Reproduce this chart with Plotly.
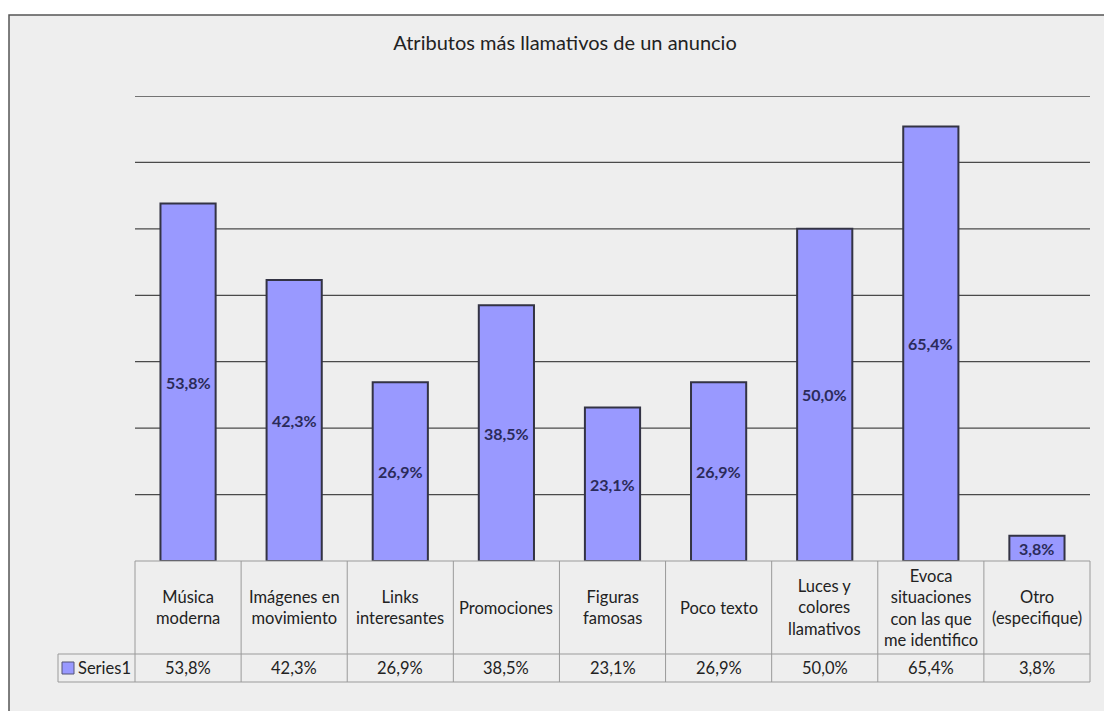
import plotly.graph_objects as go

categories = [
    "Música<br>moderna",
    "Imágenes en<br>movimiento",
    "Links<br>interesantes",
    "Promociones",
    "Figuras<br>famosas",
    "Poco texto",
    "Luces y<br>colores<br>llamativos",
    "Evoca<br>situaciones<br>con las que<br>me identifico",
    "Otro<br>(especifique)",
]
values = [53.8, 42.3, 26.9, 38.5, 23.1, 26.9, 50.0, 65.4, 3.8]
grid_values = [10, 20, 30, 40, 50, 60, 70]
series_name = "Series1"
title_text = "Atributos más llamativos de un anuncio"

W, H = 1104, 711
L, R, T, B = 135, 14, 96, 150
PW, PH = W - L - R, H - T - B

BAR_FILL = "#9999FF"
BAR_LINE = "#333344"
TEXT = "#222222"
LABEL = "#2B2B5A"
GRID = "#4A4A4A"
TABLE = "#9A9A9A"
FONT = "Lato, 'Open Sans', sans-serif"
TABLE_SIZE = 16.5


def fmt(v):
    return f"{v:.1f}".replace(".", ",") + "%"


def px_x(p):
    return (p - L) / PW


def px_y(p):
    return (H - B - p) / PH


n = len(categories)
xs = list(range(n))

fig = go.Figure()
fig.add_trace(go.Bar(
    x=xs, y=values, name=series_name,
    marker=dict(color=BAR_FILL, line=dict(color=BAR_LINE, width=2)),
    width=0.52, hoverinfo="skip",
))

shapes = []
annotations = []

# chart frame
shapes.append(dict(type="rect", xref="paper", yref="paper", layer="below",
                   x0=px_x(9), x1=px_x(1120), y0=px_y(15), y1=px_y(730),
                   fillcolor="#EEEEEE", line=dict(color="#555555", width=1.5)))

# horizontal gridlines (drawn under the bars)
for g in grid_values:
    shapes.append(dict(type="line", xref="paper", yref="y", layer="below",
                       x0=0, x1=1, y0=g, y1=g, line=dict(color=GRID, width=1.3)))

# data table beneath the bars
row_mid = px_y(654)
row_bot = px_y(682)
shapes.append(dict(type="line", xref="paper", yref="paper",
                   x0=0, x1=1, y0=0, y1=0, line=dict(color=TABLE, width=1)))
shapes.append(dict(type="line", xref="paper", yref="paper",
                   x0=px_x(58), x1=1, y0=row_mid, y1=row_mid, line=dict(color=TABLE, width=1)))
shapes.append(dict(type="line", xref="paper", yref="paper",
                   x0=px_x(58), x1=1, y0=row_bot, y1=row_bot, line=dict(color=TABLE, width=1)))
shapes.append(dict(type="line", xref="paper", yref="paper",
                   x0=px_x(58), x1=px_x(58), y0=row_mid, y1=row_bot, line=dict(color=TABLE, width=1)))
for i in range(n + 1):
    shapes.append(dict(type="line", xref="paper", yref="paper",
                       x0=i / n, x1=i / n, y0=0, y1=row_bot, line=dict(color=TABLE, width=1)))

for i, (c, v) in enumerate(zip(categories, values)):
    xc = (i + 0.5) / n
    annotations.append(dict(x=xc, y=(0 + row_mid) / 2, xref="paper", yref="paper",
                            xanchor="center", yanchor="middle",
                            text=c, showarrow=False, align="center",
                            font=dict(family=FONT, size=TABLE_SIZE, color=TEXT)))
    annotations.append(dict(x=xc, y=(row_mid + row_bot) / 2, xref="paper", yref="paper",
                            xanchor="center", yanchor="middle",
                            text=fmt(v), showarrow=False,
                            font=dict(family=FONT, size=TABLE_SIZE, color=TEXT)))
    # value label centred in each bar
    annotations.append(dict(x=i, y=v / 2, xref="x", yref="y", text=fmt(v),
                            xanchor="center", yanchor="middle", showarrow=False,
                            font=dict(family=FONT, size=16, color=LABEL, weight="bold")))

# legend key in the table
shapes.append(dict(type="rect", xref="paper", yref="paper",
                   x0=px_x(62), x1=px_x(74), y0=px_y(674), y1=px_y(662),
                   fillcolor=BAR_FILL, line=dict(color="#555577", width=1)))
annotations.append(dict(x=px_x(76), y=(row_mid + row_bot) / 2, xref="paper", yref="paper",
                        text=series_name, showarrow=False, xanchor="left", yanchor="middle",
                        font=dict(family=FONT, size=TABLE_SIZE, color=TEXT)))

fig.update_layout(
    width=W, height=H,
    margin=dict(l=L, r=R, t=T, b=B, pad=0),
    paper_bgcolor="white",
    plot_bgcolor="rgba(0,0,0,0)",
    showlegend=False,
    title=dict(text=title_text, x=565 / W, xanchor="center",
               y=1 - 43 / H, yanchor="middle",
               font=dict(family=FONT, size=20, color=TEXT)),
    xaxis=dict(range=[-0.5, n - 0.5], showticklabels=False, showgrid=False,
               zeroline=False, showline=False, ticks=""),
    yaxis=dict(range=[0, 70], showticklabels=False, showgrid=False,
               zeroline=False, showline=False, ticks=""),
    shapes=shapes,
    annotations=annotations,
)

fig.write_html("out.html")
